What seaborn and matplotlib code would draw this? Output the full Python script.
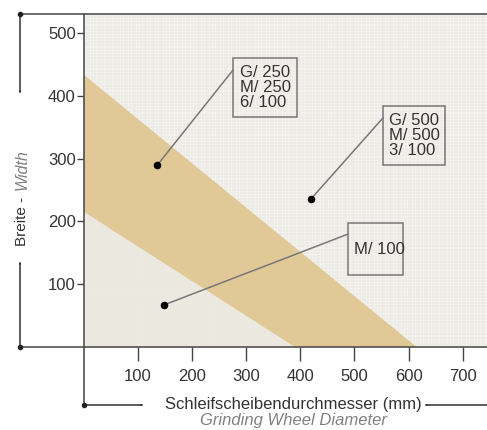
import matplotlib
matplotlib.use("Agg")
import matplotlib.pyplot as plt
from matplotlib.lines import Line2D
from matplotlib.patches import Rectangle, FancyArrowPatch
import seaborn as sns
import pandas as pd
import numpy as np

# band limits (diameter mm, width mm)
band_upper_x = [0, 615]
band_upper_y = [433, 0]
band_lower_x = [0, 390]
band_lower_y = [215, 0]

# sample points and their labels
point_x = [135, 420, 148]
point_y = [289, 236, 67]
point_labels = ["G/ 250\nM/ 250\n6/ 100", "G/ 500\nM/ 500\n3/ 100", "M/ 100"]

x_ticks = [100, 200, 300, 400, 500, 600, 700]
y_ticks = [100, 200, 300, 400, 500]

sns.set_style("white")
plt.rcParams['font.family'] = ['Liberation Sans', 'DejaVu Sans']

W, H = 487, 430
fig = plt.figure(figsize=(W / 100, H / 100), dpi=100)
ax = fig.add_axes([84 / W, 1 - 347 / H, (W - 84) / W, 333 / H])
ax.set_xlim(0, 745)
ax.set_ylim(0, 530)
ax.set_facecolor('#f6f5f1')

# fine texture grid
for gx in np.arange(0, 745, 5):
    ax.axvline(gx, color='#e2e0da', lw=0.35, zorder=0)
for gy in np.arange(0, 530, 5):
    ax.axhline(gy, color='#e2e0da', lw=0.35, zorder=0)

# regions
ax.fill([0, band_lower_x[1], 0], [0, 0, band_lower_y[0]],
        color='#ebe8df', alpha=0.85, lw=0, zorder=1)
ax.fill([band_upper_x[0], band_upper_x[1], band_lower_x[1], band_lower_x[0]],
        [band_upper_y[0], band_upper_y[1], band_lower_y[1], band_lower_y[0]],
        color='#dfc590', alpha=0.92, lw=0, zorder=1)

pts = pd.DataFrame({'x': point_x, 'y': point_y})
sns.scatterplot(data=pts, x='x', y='y', color='black', s=30, ax=ax, zorder=5,
                edgecolor='black', linewidth=0)

# label boxes (axes fraction: x0, y0, x1, y1) and leader line end points
boxes = [(0.370, 0.691, 0.529, 0.868), (0.742, 0.547, 0.896, 0.724), (0.655, 0.216, 0.792, 0.372)]
leader_ends = [(0.370, 0.832), (0.742, 0.688), (0.655, 0.339)]
for (x0, y0, x1, y1), lab, end, px, py in zip(boxes, point_labels, leader_ends, point_x, point_y):
    ax.add_patch(Rectangle((x0, y0), x1 - x0, y1 - y0, transform=ax.transAxes,
                           facecolor='none', edgecolor='#777777', lw=1.1, zorder=4))
    ax.text(x0 + 0.016, (y0 + y1) / 2, lab, transform=ax.transAxes, ha='left', va='center',
            fontsize=12, color='#333333', linespacing=1.0, zorder=5)
    ax.annotate('', xy=(px, py), xycoords='data', xytext=end, textcoords='axes fraction',
                arrowprops=dict(arrowstyle='-', color='#777777', lw=1.1, shrinkA=0, shrinkB=0),
                zorder=4)

ax.set_xticks(x_ticks)
ax.set_yticks(y_ticks)
ax.tick_params(axis='x', direction='out', length=10, width=1, color='#444444', pad=6,
               labelsize=12, labelcolor='#333333', bottom=True)
ax.tick_params(axis='y', direction='out', length=5, width=1, color='#444444', pad=1,
               labelsize=12, labelcolor='#333333', left=True)
for s in ['top', 'right', 'bottom', 'left']:
    ax.spines[s].set_visible(False)
ax.set_xlabel('')
ax.set_ylabel('')


def fx(px):
    return px / W


def fy(py):
    return 1 - py / H


line_kw = dict(color='#444444', lw=1.1, transform=fig.transFigure)
# frame lines extending beyond the plot
fig.add_artist(Line2D([fx(20), 1], [fy(14), fy(14)], **line_kw))
fig.add_artist(Line2D([fx(20), 1], [fy(347), fy(347)], **line_kw))
fig.add_artist(Line2D([fx(84), fx(84)], [fy(14), fy(405)], **line_kw))
for dx, dy in [(20, 14), (20, 347), (84, 405)]:
    fig.add_artist(Line2D([fx(dx)], [fy(dy)], marker='o', ms=3, color='#222222',
                          transform=fig.transFigure))

arrow_kw = dict(arrowstyle='-|>,head_length=0.7,head_width=0.18', color='#333333', lw=1.1,
                shrinkA=0, shrinkB=0, transform=fig.transFigure)
fig.add_artist(FancyArrowPatch((fx(20), fy(14)), (fx(20), fy(95)), **arrow_kw))
fig.add_artist(FancyArrowPatch((fx(20), fy(347)), (fx(20), fy(260)), **arrow_kw))
fig.add_artist(FancyArrowPatch((fx(84), fy(405)), (fx(145), fy(405)), **arrow_kw))
fig.add_artist(FancyArrowPatch((1.0, fy(405)), (fx(423), fy(405)), **arrow_kw))

# axis titles
fig.text(fx(293), fy(405), 'Schleifscheibendurchmesser (mm)', ha='center', va='center',
         fontsize=12, color='#333333')
fig.text(fx(293), fy(421), 'Grinding Wheel Diameter', ha='center', va='center',
         fontsize=12, style='italic', color='#808080')
fig.text(fx(22), fy(246), 'Breite -', rotation=90, ha='center', va='bottom',
         fontsize=11, color='#333333')
fig.text(fx(22), fy(190), 'Width', rotation=90, ha='center', va='bottom',
         fontsize=11.5, style='italic', color='#808080')

fig.savefig('out.png', dpi=100)
